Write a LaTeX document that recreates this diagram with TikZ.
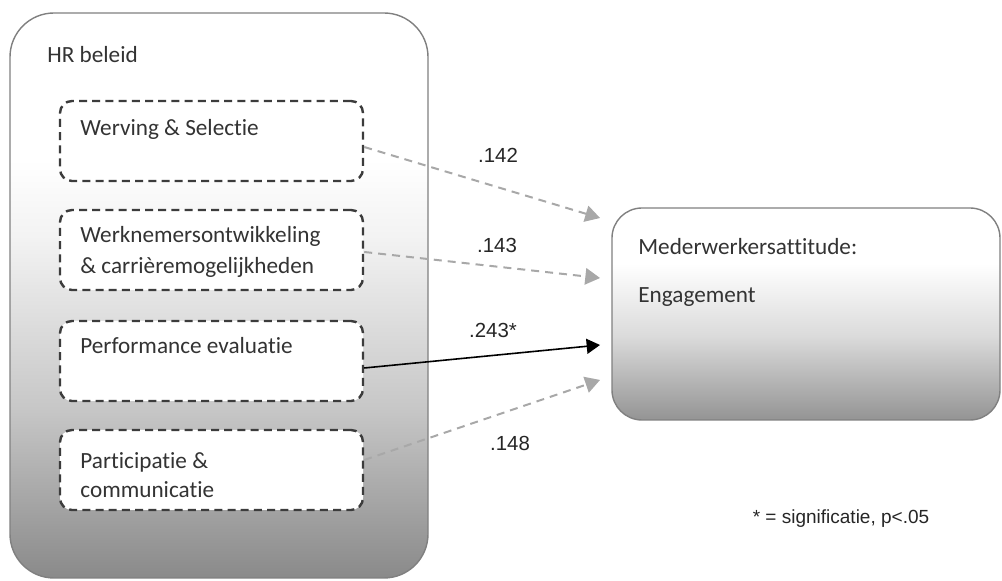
\documentclass[tikz,border=0pt]{standalone}
\usepackage{fontspec}
\setmainfont{Carlito}[Ligatures=NoCommon]
\newfontfamily\arialfont{Liberation Sans}
\usepackage{tikz}
\usetikzlibrary{arrows,calc}
\definecolor{boxline}{HTML}{808080}
\definecolor{dashline}{HTML}{3C3C3C}
\definecolor{pathgray}{HTML}{A8A8A8}
\definecolor{textgray}{HTML}{333333}
\pgfdeclareverticalshading{hrshade}{100bp}{color(0bp)=(black!46); color(25bp)=(black!46);
	color(40bp)=(black!22); color(55bp)=(black!5); color(62bp)=(white); color(100bp)=(white)}
\pgfdeclareverticalshading{engshade}{100bp}{color(0bp)=(black!42); color(25bp)=(black!42);
	color(45bp)=(black!14); color(62bp)=(white); color(100bp)=(white)}
\tikzset{
	hrbox/.style={draw=boxline, line width=0.7pt, rounded corners=22pt, inner sep=0pt,
		minimum width=209pt, minimum height=282.5pt, shading=hrshade},
	outcomebox/.style={draw=boxline, line width=0.7pt, rounded corners=15pt, inner sep=0pt,
		minimum width=194pt, minimum height=106pt, shading=engshade},
	practicebox/.style={draw=dashline, fill=white, line width=1.2pt, dash pattern=on 4pt off 2.6pt,
		rounded corners=6pt, inner sep=0pt, minimum width=151.5pt, minimum height=40pt},
	boxtext/.style={anchor=north west, inner sep=0pt, text=textgray, align=left,
		font=\fontsize{11.6}{15.5}\selectfont},
	coeflabel/.style={inner sep=0pt, text=black!85, font=\arialfont\fontsize{10.2}{12}\selectfont},
	weakpath/.style={draw=pathgray, line width=1pt, dash pattern=on 4pt off 3pt, -triangle 60},
	strongpath/.style={draw=black, line width=0.8pt, -triangle 60}
}
\begin{document}
\begin{tikzpicture}[x=0.5pt,y=-0.5pt]
	\useasboundingbox (0,0) rectangle (1002,581);

	% HR beleid
	\node[hrbox] (hr) at (219,295.5) {};
	\node[boxtext] (hrlabel) at (47,46) {HR beleid};

	\node[practicebox] (ws) at (211.5,141) {};
	\node[practicebox] (wo) at (211.5,250) {};
	\node[practicebox] (pe) at (211.5,361) {};
	\node[practicebox] (pc) at (211.5,470) {};

	\node[boxtext] (wstext) at (80,119) {Werving \& Selectie};
	\node[boxtext] (wotext) at (80,226) {Werknemersontwikkeling\\\& carrièremogelijkheden};
	\node[boxtext] (petext) at (80,337) {Performance evaluatie};
	\node[boxtext, font=\fontsize{11.6}{14.5}\selectfont] (pctext) at (80,452) {Participatie \&\\communicatie};

	% uitkomst
	\node[outcomebox] (eng) at (806,314) {};
	\node[boxtext, font=\fontsize{11.6}{24}\selectfont] (engtext) at (638,238) {Mederwerkersattitude:\\Engagement};

	% paden
	\coordinate (e1) at (600,218);
	\coordinate (e2) at (600,278);
	\coordinate (e3) at (600,345);
	\coordinate (e4) at (600,380);

	\draw[weakpath] ($(ws.east)+(0,6)$) -- (e1);
	\draw[weakpath] ($(wo.east)+(0,2)$) -- (e2);
	\draw[strongpath] ($(pe.east)+(0,7)$) -- (e3);
	\draw[weakpath] ($(pc.east)+(0,-10)$) -- (e4);

	\node[coeflabel] (c1) at (498,155) {.142};
	\node[coeflabel] (c2) at (497,245) {.143};
	\node[coeflabel] (c3) at (493,330) {.243*};
	\node[coeflabel] (c4) at (510,443) {.148};

	\node[coeflabel, font=\arialfont\fontsize{9.5}{11}\selectfont] (note) at (841,519) {* = significatie, p<.05};
\end{tikzpicture}
\end{document}
